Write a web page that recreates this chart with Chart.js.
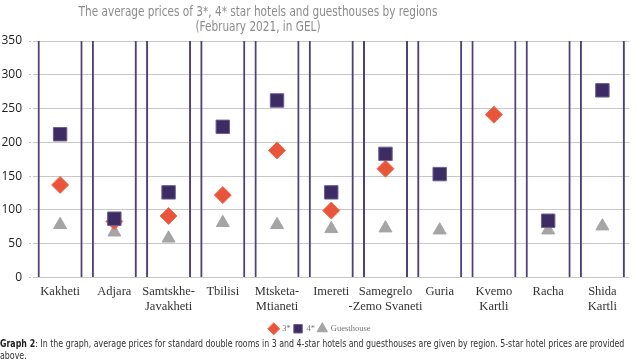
<!DOCTYPE html>
<html>
<head>
<meta charset="utf-8">
<script src="https://cdn.jsdelivr.net/npm/chart.js@4/dist/chart.umd.min.js"></script>
<style>
  html, body { margin: 0; padding: 0; background: #fff; overflow: hidden; }
  #wrap { position: relative; width: 640px; height: 362px; }
  #title { position: absolute; left: 0; top: 4px; width: 516px; text-align: center;
           font-family: 'DejaVu Sans Condensed', 'DejaVu Sans', sans-serif; font-size: 14px;
           line-height: 15px; color: #8c8c8c; transform: scaleX(0.835); transform-origin: 258px 0; }
  #cv { position: absolute; left: 0; top: 0; }
  #caption { position: absolute; left: 0; top: 337px; width: 766px;
             font-family: 'Liberation Sans Narrow', 'DejaVu Sans Condensed', sans-serif;
             font-size: 10.5px; line-height: 12px; color: #333;
             transform: scaleX(0.835); transform-origin: 0 0; }
  #caption b { color: #222; }
</style>
</head>
<body>
<div id="wrap">
  <canvas id="cv" width="640" height="343"></canvas>
  <div id="title">The average prices of 3*, 4* star hotels and guesthouses by regions<br>(February 2021, in GEL)</div>
  <div id="caption"><b>Graph 2</b>: In the graph, average prices for standard double rooms in 3 and 4-star hotels and guesthouses are given by region. 5-star hotel prices are provided above.</div>
</div>
<script>
const ORANGE = '#e9553b';
const PURPLE = '#3d2b63';
const GREY   = '#a5a5a5';
const FRAME  = '#4f4079';

const regions = [
  'Kakheti', 'Adjara', ['Samtskhe-', 'Javakheti'], 'Tbilisi', ['Mtsketa-', 'Mtianeti'],
  'Imereti', ['Samegrelo', '-Zemo Svaneti'], 'Guria', ['Kvemo', 'Kartli'], 'Racha', ['Shida', 'Kartli']
];
const star3      = [137, 83, 91, 122, 188, 99, 161, null, 241, null, null];
const star4      = [212, 87, 126, 223, 262, 126, 183, 153, null, 84, 277];
const guesthouse = [78, 67, 58, 81, 78, 72, 73, 70, null, 70, 76];
const frameTop   = [350, 350, 350, 350, 350, 350, 350, 350, 350, 350, 350];
const yTicks     = [0, 50, 100, 150, 200, 250, 300, 350];

const serif = 'Liberation Serif';

new Chart(document.getElementById('cv'), {
  type: 'bar',
  data: {
    labels: regions,
    datasets: [
      { type: 'line', label: '3*', data: star3, showLine: false, order: 1,
        pointStyle: 'rectRot', pointRadius: 8.5, backgroundColor: ORANGE, borderColor: '#f26b4e', borderWidth: 1 },
      { type: 'line', label: '4*', data: star4, showLine: false, order: 0,
        pointStyle: 'rect', pointRadius: 9.5, backgroundColor: PURPLE, borderColor: '#6c5f94', borderWidth: 1 },
      { type: 'line', label: 'Guesthouse', data: guesthouse, showLine: false, order: 2,
        pointStyle: 'triangle', pointRadius: 7.5, backgroundColor: GREY, borderColor: GREY, borderWidth: 1 },
      { label: 'frame', data: frameTop, order: 3, backgroundColor: 'rgba(0,0,0,0)', borderColor: FRAME,
        borderWidth: { left: 2, right: 2, top: 0, bottom: 0 }, borderSkipped: false,
        barPercentage: 0.83, categoryPercentage: 1 }
    ]
  },
  options: {
    responsive: false, animation: false,
    layout: { padding: { top: 41, left: 0, right: 0, bottom: 0 } },
    plugins: {
      tooltip: { enabled: false },
      legend: {
        position: 'bottom',
        labels: {
          usePointStyle: true, boxWidth: 10, boxHeight: 10, padding: 3, color: '#777',
          font: { family: serif, size: 8.5 },
          filter: (item) => item.text !== 'frame',
          sort: (a, b) => a.datasetIndex - b.datasetIndex
        }
      }
    },
    scales: {
      x: {
        grid: { display: false, drawTicks: false }, border: { display: false },
        ticks: { color: '#333', font: { family: serif, size: 12.5 }, padding: 7, maxRotation: 0, autoSkip: false },
        afterFit: (s) => { s.height = 44; }
      },
      y: {
        min: 0, max: 350,
        border: { display: false },
        grid: { color: '#c8c8c8', lineWidth: 1, borderDash: [2, 2], tickLength: 4, tickBorderDash: [2, 2], tickColor: '#c8c8c8' },
        afterBuildTicks: (s) => { s.ticks = yTicks.map(v => ({ value: v })); },
        ticks: { color: '#222', font: { family: 'Open Sans', size: 12 }, padding: 7 },
        afterFit: (s) => { s.width = 33; }
      }
    }
  }
});
</script>
</body>
</html>
